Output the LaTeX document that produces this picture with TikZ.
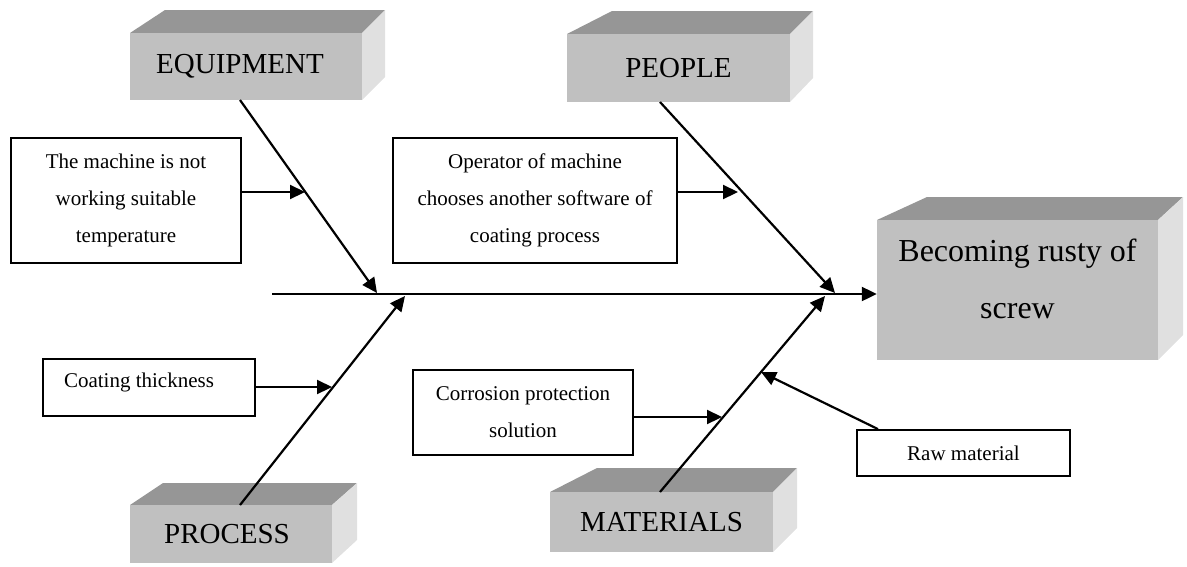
\documentclass[tikz,border=0pt]{standalone}
\usepackage{fontspec}
\setmainfont{Liberation Serif}
\usetikzlibrary{arrows.meta}
\definecolor{frontgray}{RGB}{192,192,192}
\definecolor{topgray}{RGB}{150,150,150}
\definecolor{sidegray}{RGB}{224,224,224}
\begin{document}
\begin{tikzpicture}[x=1pt,y=-1pt,
  arr/.style={line width=2.2pt,-{Triangle[length=15pt 0,width=14pt 0]}},
  causebox/.style={draw,line width=1.8pt,fill=white,inner sep=0pt,font=\fontsize{21}{37}\selectfont,align=center},
  front/.style={fill=frontgray,inner sep=0pt,font=\fontsize{29}{32}\selectfont},
  topface/.style={fill=topgray},
  sideface/.style={fill=sidegray}]
\useasboundingbox (0,0) rectangle (1187,566);

% ---- category boxes (3D) ----
% EQUIPMENT
\fill[topface] (130,33) -- (165,10) -- (385,10) -- (362,33) -- cycle;
\fill[sideface] (362,33) -- (385,10) -- (385,77) -- (362,100) -- cycle;
\node[front,minimum width=232pt,minimum height=67pt] (equip) at (246,66.5) {EQUIPMENT\hspace*{12pt}};
% PEOPLE
\fill[topface] (567,34) -- (612,11) -- (813,11) -- (790,34) -- cycle;
\fill[sideface] (790,34) -- (813,11) -- (813,78) -- (790,102) -- cycle;
\node[front,minimum width=223pt,minimum height=68pt] (people) at (678.5,68) {PEOPLE};
% PROCESS
\fill[topface] (130,505) -- (163,483) -- (357,483) -- (332,505) -- cycle;
\fill[sideface] (332,505) -- (357,483) -- (357,540) -- (332,563) -- cycle;
\node[front,minimum width=202pt,minimum height=58pt] (process) at (231,534) {PROCESS\hspace*{8pt}};
% MATERIALS
\fill[topface] (550,492) -- (597,468) -- (797,468) -- (773,492) -- cycle;
\fill[sideface] (773,492) -- (797,468) -- (797,528) -- (773,552) -- cycle;
\node[front,minimum width=223pt,minimum height=60pt] (materials) at (661.5,522) {MATERIALS};
% EFFECT
\fill[topface] (877,220) -- (927,197) -- (1183,197) -- (1158,220) -- cycle;
\fill[sideface] (1158,220) -- (1183,197) -- (1183,335) -- (1158,360) -- cycle;
\node[front,minimum width=281pt,minimum height=140pt] (effect) at (1017.5,290) {};
\node[font=\fontsize{32}{57}\selectfont,align=center,inner sep=0pt] (effecttext) at (1017.5,279) {Becoming rusty of\\screw};

% ---- spine ----
\coordinate (spl) at (272,294);
\draw[arr] (spl) -- (effect.west |- spl);

% ---- bones ----
\coordinate (eqs) at (240,100);  \coordinate (eqt) at (377,293);
\coordinate (pes) at (660,102);  \coordinate (pet) at (835,293);
\coordinate (prs) at (240,505);  \coordinate (prt) at (405,296);
\coordinate (mas) at (660,492);  \coordinate (mat) at (825,296);
\draw[arr] (eqs) -- (eqt);
\draw[arr] (pes) -- (pet);
\draw[arr] (prs) -- (prt);
\draw[arr] (mas) -- (mat);

% ---- sub-causes ----
\node[causebox,minimum width=230pt,minimum height=125pt] (machine) at (126,200.5)
  {The machine is not\\working suitable\\temperature};
\node[causebox,minimum width=284pt,minimum height=125pt] (operator) at (535,200.5)
  {Operator of machine\\chooses another software of\\coating process};
\node[causebox,minimum width=212pt,minimum height=57pt] (coat) at (149,387.5) {};
\node[font=\fontsize{21}{37}\selectfont,inner sep=0pt] (coattext) at (139,382) {Coating thickness};
\node[causebox,minimum width=220pt,minimum height=85pt] (corr) at (523,412.5)
  {Corrosion protection\\solution};
\node[causebox,minimum width=213pt,minimum height=46pt] (raw) at (963.5,453)
  {Raw material};

\coordinate (m1) at (305,192);
\coordinate (o1) at (738,192);
\coordinate (c1) at (332,387);
\coordinate (s1) at (722,417);
\coordinate (r0) at (878,430);
\coordinate (r1) at (761,372);
\draw[arr] (machine.east |- m1) -- (m1);
\draw[arr] (operator.east |- o1) -- (o1);
\draw[arr] (coat.east |- c1) -- (c1);
\draw[arr] (corr.east |- s1) -- (s1);
\draw[arr] (raw.north -| r0) -- (r1);
\end{tikzpicture}
\end{document}
